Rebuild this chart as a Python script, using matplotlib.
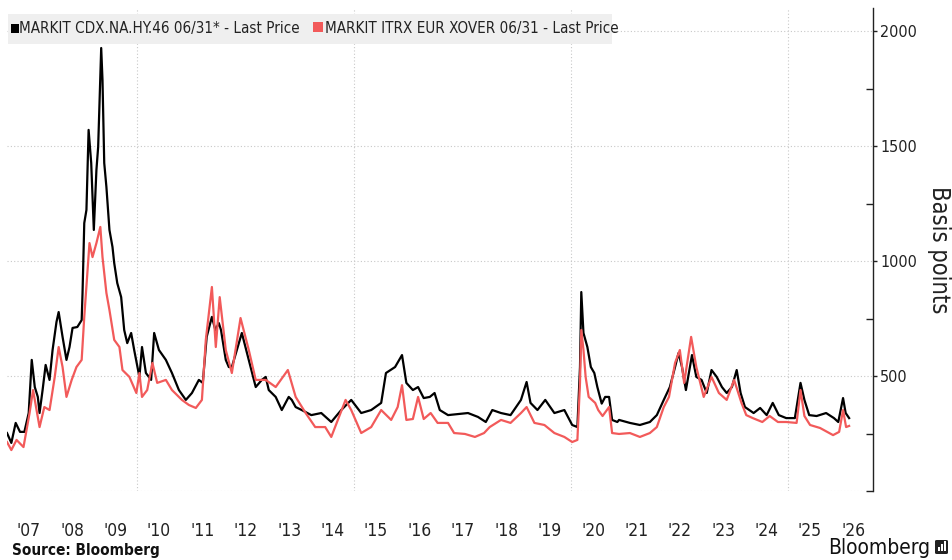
import matplotlib
matplotlib.use("Agg")
import matplotlib.pyplot as plt
from matplotlib import font_manager
from matplotlib.patches import Rectangle, FancyBboxPatch
from matplotlib.ticker import FixedLocator, NullFormatter

# ---------------- data (decimal years, basis points) ----------------
cdx_years = [2007.00, 2007.10, 2007.20, 2007.30, 2007.40, 2007.50, 2007.57, 2007.64, 2007.71, 2007.75,
             2007.82, 2007.89, 2007.98, 2008.05, 2008.14, 2008.19, 2008.28, 2008.37, 2008.44, 2008.51,
             2008.62, 2008.72, 2008.74, 2008.78, 2008.83, 2008.88, 2008.94, 2009.00, 2009.06, 2009.10,
             2009.17, 2009.20, 2009.24, 2009.29, 2009.36, 2009.43, 2009.47, 2009.54, 2009.63, 2009.70,
             2009.77, 2009.86, 2009.93, 2010.05, 2010.11, 2010.20, 2010.32, 2010.39, 2010.50, 2010.66,
             2010.80, 2010.96, 2011.12, 2011.26, 2011.42, 2011.51, 2011.60, 2011.72, 2011.80, 2011.88,
             2011.93, 2012.04, 2012.11, 2012.18, 2012.34, 2012.41, 2012.57, 2012.73, 2012.87, 2012.96,
             2013.03, 2013.19, 2013.33, 2013.49, 2013.56, 2013.65, 2013.79, 2014.01, 2014.24, 2014.47,
             2014.70, 2014.93, 2015.16, 2015.39, 2015.62, 2015.73, 2015.94, 2016.10, 2016.20, 2016.35,
             2016.47, 2016.60, 2016.74, 2016.85, 2016.97, 2017.16, 2017.43, 2017.62, 2017.85, 2018.03,
             2018.18, 2018.38, 2018.60, 2018.84, 2018.97, 2019.06, 2019.22, 2019.40, 2019.61, 2019.84,
             2020.02, 2020.14, 2020.20, 2020.23, 2020.28, 2020.37, 2020.45, 2020.53, 2020.60, 2020.70,
             2020.78, 2020.87, 2020.94, 2021.06, 2021.10, 2021.35, 2021.58, 2021.81, 2021.97, 2022.13,
             2022.27, 2022.39, 2022.47, 2022.55, 2022.64, 2022.78, 2022.88, 2023.00, 2023.12, 2023.23,
             2023.35, 2023.47, 2023.58, 2023.70, 2023.81, 2023.90, 2024.00, 2024.20, 2024.35, 2024.50,
             2024.64, 2024.78, 2024.95, 2025.15, 2025.28, 2025.37, 2025.48, 2025.65, 2025.87, 2026.05,
             2026.15, 2026.26, 2026.32, 2026.40]
cdx_values = [252, 209, 296, 257, 257, 339, 570, 452, 409, 339,
              439, 548, 483, 613, 735, 778, 670, 570, 626, 709,
              713, 743, 861, 1165, 1222, 1570, 1426, 1135, 1396, 1496,
              1926, 1787, 1426, 1322, 1135, 1061, 991, 904, 843, 700,
              643, 687, 613, 496, 626, 513, 483, 687, 613, 570,
              513, 439, 396, 426, 483, 470, 670, 757, 700, 730,
              700, 570, 539, 539, 643, 687, 570, 452, 483, 496,
              439, 409, 352, 409, 396, 365, 352, 330, 339, 300,
              352, 396, 339, 352, 383, 513, 539, 591, 470, 439,
              452, 404, 409, 426, 352, 330, 335, 339, 322, 300,
              352, 339, 330, 396, 474, 383, 352, 396, 339, 352,
              287, 278, 539, 865, 687, 626, 539, 513, 452, 380,
              409, 409, 309, 300, 309, 296, 287, 300, 330, 396,
              452, 539, 600, 539, 439, 591, 496, 483, 426, 526,
              496, 452, 426, 452, 526, 426, 365, 339, 361, 330,
              383, 330, 317, 317, 470, 396, 330, 326, 339, 317,
              300, 404, 339, 317]

xover_years = [2007.00, 2007.10, 2007.22, 2007.38, 2007.52, 2007.60, 2007.68, 2007.75, 2007.86, 2007.98,
               2008.10, 2008.19, 2008.28, 2008.37, 2008.49, 2008.60, 2008.72, 2008.78, 2008.90, 2008.97,
               2009.06, 2009.15, 2009.20, 2009.29, 2009.36, 2009.47, 2009.59, 2009.66, 2009.82, 2009.98,
               2010.05, 2010.11, 2010.23, 2010.35, 2010.46, 2010.66, 2010.80, 2011.03, 2011.19, 2011.35,
               2011.49, 2011.58, 2011.72, 2011.81, 2011.90, 2012.04, 2012.18, 2012.38, 2012.57, 2012.73,
               2012.96, 2013.19, 2013.47, 2013.65, 2013.88, 2014.10, 2014.33, 2014.47, 2014.80, 2014.93,
               2015.16, 2015.39, 2015.62, 2015.85, 2016.00, 2016.10, 2016.20, 2016.35, 2016.47, 2016.60,
               2016.76, 2016.92, 2017.16, 2017.30, 2017.55, 2017.78, 2017.99, 2018.12, 2018.38, 2018.60,
               2018.84, 2018.97, 2019.15, 2019.38, 2019.61, 2019.84, 2020.02, 2020.14, 2020.20, 2020.23,
               2020.28, 2020.33, 2020.40, 2020.55, 2020.62, 2020.72, 2020.87, 2020.94, 2021.10, 2021.35,
               2021.58, 2021.81, 2021.97, 2022.13, 2022.25, 2022.39, 2022.50, 2022.60, 2022.76, 2022.88,
               2023.05, 2023.23, 2023.40, 2023.58, 2023.75, 2023.92, 2024.03, 2024.18, 2024.40, 2024.57,
               2024.76, 2024.95, 2025.19, 2025.28, 2025.37, 2025.50, 2025.73, 2026.03, 2026.17, 2026.26,
               2026.33, 2026.40]
xover_values = [213, 178, 222, 191, 339, 439, 352, 278, 365, 352,
                496, 626, 539, 409, 483, 539, 570, 757, 1078, 1017,
                1078, 1148, 1017, 861, 787, 657, 626, 526, 496, 426,
                513, 409, 439, 557, 470, 483, 439, 396, 374, 361,
                396, 657, 887, 626, 843, 613, 513, 752, 613, 483,
                483, 452, 526, 409, 339, 278, 278, 235, 396, 352,
                252, 278, 352, 309, 365, 460, 309, 313, 409, 313,
                339, 296, 296, 252, 248, 235, 252, 278, 309, 296,
                339, 365, 296, 287, 252, 235, 213, 222, 470, 700,
                613, 496, 409, 383, 352, 326, 365, 252, 248, 252,
                235, 252, 278, 365, 409, 557, 613, 470, 670, 539,
                409, 496, 426, 396, 483, 383, 330, 317, 300, 326,
                300, 300, 296, 439, 326, 287, 274, 243, 257, 352,
                278, 283]

year_labels = ["'07", "'08", "'09", "'10", "'11", "'12", "'13", "'14", "'15", "'16",
               "'17", "'18", "'19", "'20", "'21", "'22", "'23", "'24", "'25", "'26"]
year_starts = list(range(2007, 2027))
y_major = [500, 1000, 1500, 2000]

series_names = ["MARKIT CDX.NA.HY.46 06/31* - Last Price",
                "MARKIT ITRX EUR XOVER 06/31 - Last Price"]

# ---------------- font choice: prefer a condensed sans if installed ----------------
def _is_cond(f):
    nm = (f.name + " " + f.fname).lower()
    return (("narrow" in nm or "condensed" in nm or str(f.stretch) in ("condensed", "semi-condensed"))
            and "mono" not in nm and "serif" not in f.name.lower() and f.style == "normal")

def _wnum(w):
    if isinstance(w, int):
        return w
    return {"normal": 400, "regular": 400, "book": 400, "bold": 700, "medium": 500}.get(str(w), 400)

cond_reg = None
cond_bold = None
for f in font_manager.fontManager.ttflist:
    if _is_cond(f):
        fn = f.fname.lower()
        if _wnum(f.weight) == 400 and cond_reg is None and "italic" not in fn:
            cond_reg = f
for f in font_manager.fontManager.ttflist:
    if cond_reg is not None and _is_cond(f) and f.name == cond_reg.name and _wnum(f.weight) == 700 \
            and "italic" not in f.fname.lower():
        cond_bold = f
        break

if cond_reg is not None:
    def tfont(size, weight="normal"):
        src = cond_bold if (weight == "bold" and cond_bold is not None) else cond_reg
        return dict(fontproperties=font_manager.FontProperties(fname=src.fname, size=size))
    scale = 1.0
else:
    def tfont(size, weight="normal"):
        return dict(family=["Liberation Sans", "DejaVu Sans"], fontsize=size, fontweight=weight)
    scale = 0.9

# ---------------- figure ----------------
W, H = 952, 560
fig = plt.figure(figsize=(W / 100, H / 100), dpi=100)

ax = fig.add_axes([7 / W, 1 - 491 / H, (873 - 7) / W, (491 - 8) / H])
BLACK = "#000000"
RED = "#f25a5a"

ax.plot(cdx_years, cdx_values, color=BLACK, lw=1.6, zorder=3)
ax.plot(xover_years, xover_values, color=RED, lw=1.6, zorder=4)

ax.set_xlim(2007.0, 2026.95)
ax.set_ylim(0, 2100)

for s in ["left", "top", "bottom"]:
    ax.spines[s].set_visible(False)
ax.spines["right"].set_color("#222222")
ax.spines["right"].set_linewidth(1.0)

ax.yaxis.tick_right()
ax.yaxis.set_major_locator(FixedLocator(y_major))
ax.yaxis.set_minor_locator(FixedLocator([0, 250, 750, 1250, 1750]))
ax.yaxis.set_minor_formatter(NullFormatter())
ax.tick_params(axis="y", which="major", direction="out", length=3, width=1, pad=2, colors="#222222")
ax.tick_params(axis="y", which="minor", direction="in", length=5, width=1, colors="#222222")
ax.set_yticklabels([str(v) for v in y_major], **tfont(11.5 * scale))

ax.set_xticks([y + 0.5 for y in year_starts])
ax.set_xticklabels(year_labels, **tfont(12.5 * scale))
ax.tick_params(axis="x", length=0, pad=22, colors="#222222")

# grid
for v in y_major + [0]:
    ax.axhline(v, color="#c8c8c8", lw=0.8, ls=(0, (1, 2)), zorder=1)
for yv in [2010, 2015, 2020, 2025]:
    ax.axvline(yv, color="#c8c8c8", lw=0.8, ls=(0, (1, 2)), zorder=1)

fig.text(939 / W, 1 - 250 / H, "Basis points", rotation=270, va="center", ha="center",
         color="#222222", **tfont(17 * scale))

# legend box
fig.patches.append(Rectangle((8 / W, 1 - 44 / H), (612 - 8) / W, 30 / H,
                             transform=fig.transFigure, facecolor="#efefef",
                             edgecolor="none", zorder=5))
fig.patches.append(Rectangle((11 / W, 1 - 33 / H), 8 / W, 9 / H, transform=fig.transFigure,
                             facecolor=BLACK, edgecolor="none", zorder=6))
fig.text(19 / W, 1 - 29 / H, series_names[0], va="center", ha="left", color="#222222",
         zorder=6, **tfont(10.9 * scale))
fig.patches.append(Rectangle((313 / W, 1 - 32 / H), 10 / W, 10 / H, transform=fig.transFigure,
                             facecolor=RED, edgecolor="none", zorder=6))
fig.text(325 / W, 1 - 29 / H, series_names[1], va="center", ha="left", color="#222222",
         zorder=6, **tfont(10.9 * scale))

# footer
fig.text(12 / W, 1 - 550 / H, "Source: Bloomberg", va="center", ha="left", color="#111111",
         **tfont(11 * scale, "bold"))
fig.text(930 / W, 1 - 548 / H, "Bloomberg", va="center", ha="right", color="#111111",
         **tfont(15 * scale))
fig.patches.append(FancyBboxPatch((935 / W, 1 - 554 / H), 13 / W, 14 / H,
                                  boxstyle="round,pad=0,rounding_size=0.002",
                                  transform=fig.transFigure, facecolor="#222222", edgecolor="none"))
for i, hgt in enumerate([4, 7, 10]):
    fig.patches.append(Rectangle(((937.5 + i * 3.2) / W, 1 - 551 / H), 2 / W, hgt / H,
                                 transform=fig.transFigure, facecolor="white", edgecolor="none"))

fig.savefig("out.png", dpi=100)
